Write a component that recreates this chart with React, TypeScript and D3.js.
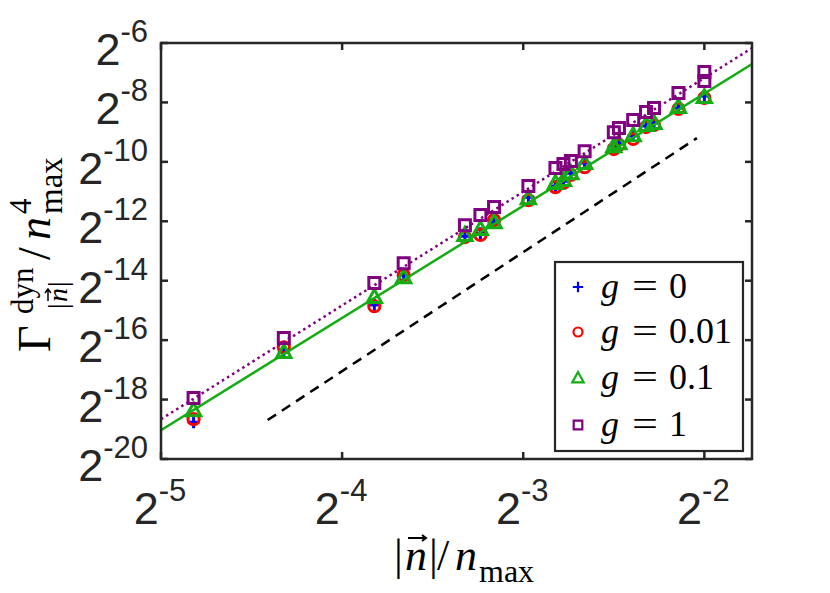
import React, { useEffect, useRef } from 'react';
import * as d3 from 'd3';

// |n| / n_max positions of the points
const xValues = [0.0354, 0.05, 0.0707, 0.0791, 0.1, 0.1061, 0.1118, 0.1275, 0.1414, 0.1458, 0.15, 0.1581, 0.1768, 0.1803, 0.1904, 0.2, 0.2062, 0.2264, 0.25];

// log2 of Gamma / n_max^4, one list per g
const g0 = [-18.76, -16.40, -14.82, -13.81, -12.50, -12.40, -12.03, -11.19, -10.81, -10.65, -10.38, -10.04, -9.47, -9.37, -9.13, -8.79, -8.69, -8.19, -7.78];
const g001 = [-18.66, -16.24, -14.86, -13.81, -12.53, -12.46, -11.96, -11.29, -10.85, -10.71, -10.44, -10.18, -9.57, -9.43, -9.23, -8.83, -8.76, -8.22, -7.85];
const g01 = [-18.36, -16.40, -14.55, -13.88, -12.46, -12.26, -12.03, -11.22, -10.71, -10.61, -10.38, -10.04, -9.47, -9.37, -9.10, -8.76, -8.69, -8.15, -7.82];
const g1 = [-17.95, -15.93, -14.08, -13.41, -12.13, -11.79, -11.52, -10.81, -10.21, -10.07, -9.97, -9.64, -9.00, -8.86, -8.59, -8.32, -8.19, -7.68, -7.28];
const g1ExtraX = [0.25];
const g1Extra = [-6.98];

// fitted lines (log2 y at the x ends)
const fitX = [0.03125, 0.3];
const fitG01 = [-19.03, -6.71];
const fitG1 = [-18.66, -6.17];
// slope-4 guide
const guideX = [0.047, 0.243];
const guideY = [-18.69, -9.2];

const xTickExp = [-5, -4, -3, -2];
const yTickExp = [-20, -18, -16, -14, -12, -10, -8, -6];
const legendLabels = ['0', '0.01', '0.1', '1'];

const GREEN = '#14ad14';
const PURPLE = '#800080';
const AXIS = '#262626';

const W = 830;
const H = 593;
const plot = { left: 161, right: 752, top: 43, bottom: 459 };

type Marker = 'plus' | 'circle' | 'triangle' | 'square';

function markerPath(m: Marker, s: number): string {
    if (m === 'plus') return `M${-s},0H${s}M0,${-s}V${s}`;
    if (m === 'triangle') return `M0,${-s * 1.15}L${s * 1.1},${s * 0.85}L${-s * 1.1},${s * 0.85}Z`;
    if (m === 'square') return `M${-s},${-s}H${s}V${s}H${-s}Z`;
    return '';
}

// little vector arrow drawn over a glyph, centred at (cx, cy), in the current frame
function arrowPath(cx: number, cy: number, w: number): string {
    const h = w / 2;
    return `M${cx - h},${cy}H${cx + h}M${cx + h - 4},${cy - 3}L${cx + h},${cy}L${cx + h - 4},${cy + 3}`;
}

const App: React.FC = () => {
    const svgRef = useRef<SVGSVGElement | null>(null);

    useEffect(() => {
        const svg = d3.select(svgRef.current);
        svg.selectAll('*').remove();

        const x = d3.scaleLog().base(2).domain([Math.pow(2, -5), 0.3]).range([plot.left, plot.right]);
        const y = d3.scaleLog().base(2).domain([Math.pow(2, -20), Math.pow(2, -6)]).range([plot.bottom, plot.top]);

        svg.append('defs').append('clipPath').attr('id', 'plotClip')
            .append('rect')
            .attr('x', plot.left).attr('y', plot.top)
            .attr('width', plot.right - plot.left).attr('height', plot.bottom - plot.top);

        const series: { vals: number[]; xs: number[]; color: string; marker: Marker }[] = [
            { vals: g0, xs: xValues, color: '#0000ff', marker: 'plus' },
            { vals: g001, xs: xValues, color: '#ff0000', marker: 'circle' },
            { vals: g01, xs: xValues, color: GREEN, marker: 'triangle' },
            { vals: g1.concat(g1Extra), xs: xValues.concat(g1ExtraX), color: PURPLE, marker: 'square' },
        ];

        const dataG = svg.append('g');
        series.forEach(s => {
            const pts = s.vals.map((v, i) => [x(s.xs[i]), y(Math.pow(2, v))]);
            if (s.marker === 'circle') {
                dataG.append('g').selectAll('circle').data(pts).enter().append('circle')
                    .attr('cx', d => d[0]).attr('cy', d => d[1]).attr('r', 5.6)
                    .attr('fill', 'none').attr('stroke', s.color).attr('stroke-width', 3);
            } else {
                const sz = s.marker === 'plus' ? 6 : s.marker === 'square' ? 5.5 : 6.5;
                dataG.append('g').selectAll('path').data(pts).enter().append('path')
                    .attr('transform', d => `translate(${d[0]},${d[1]})`)
                    .attr('d', markerPath(s.marker, sz))
                    .attr('fill', 'none').attr('stroke', s.color).attr('stroke-width', 3);
            }
        });

        const line = d3.line<[number, number]>().x(d => x(d[0])).y(d => y(Math.pow(2, d[1])));
        const lines = svg.append('g').attr('clip-path', 'url(#plotClip)');
        lines.append('path').attr('d', line(fitX.map((v, i) => [v, fitG01[i]]) as [number, number][]))
            .attr('fill', 'none').attr('stroke', GREEN).attr('stroke-width', 2.5);
        lines.append('path').attr('d', line(fitX.map((v, i) => [v, fitG1[i]]) as [number, number][]))
            .attr('fill', 'none').attr('stroke', PURPLE).attr('stroke-width', 2.5)
            .attr('stroke-dasharray', '2.5,3.5');
        lines.append('path').attr('d', line(guideX.map((v, i) => [v, guideY[i]]) as [number, number][]))
            .attr('fill', 'none').attr('stroke', '#000').attr('stroke-width', 2.5)
            .attr('stroke-dasharray', '10,7');

        // axes box + ticks
        const axG = svg.append('g').attr('stroke', AXIS).attr('stroke-width', 2.5);
        xTickExp.forEach(e => {
            const px = x(Math.pow(2, e));
            axG.append('line').attr('x1', px).attr('x2', px).attr('y1', plot.bottom).attr('y2', plot.bottom - 7);
            axG.append('line').attr('x1', px).attr('x2', px).attr('y1', plot.top).attr('y2', plot.top + 7);
        });
        yTickExp.forEach(e => {
            const py = y(Math.pow(2, e));
            axG.append('line').attr('x1', plot.left).attr('x2', plot.left + 7).attr('y1', py).attr('y2', py);
            axG.append('line').attr('x1', plot.right).attr('x2', plot.right - 7).attr('y1', py).attr('y2', py);
        });
        axG.append('rect')
            .attr('x', plot.left).attr('y', plot.top)
            .attr('width', plot.right - plot.left).attr('height', plot.bottom - plot.top)
            .attr('fill', 'none').attr('stroke-linecap', 'square');

        // tick labels
        const tickFont = '"Liberation Sans", Arial, sans-serif';
        xTickExp.forEach(e => {
            const t = svg.append('text')
                .attr('x', x(Math.pow(2, e)) - 1).attr('y', 524)
                .attr('text-anchor', 'middle').attr('font-family', tickFont)
                .attr('font-size', 45).attr('fill', AXIS);
            t.append('tspan').text('2');
            t.append('tspan').attr('dy', -23).attr('font-size', 31).text(String(e));
        });
        yTickExp.forEach(e => {
            const t = svg.append('text')
                .attr('x', 148).attr('y', y(Math.pow(2, e)) + 22)
                .attr('text-anchor', 'end').attr('font-family', tickFont)
                .attr('font-size', 45).attr('fill', AXIS);
            t.append('tspan').text('2');
            t.append('tspan').attr('dy', -23).attr('font-size', 31).text(String(e));
        });

        // legend
        const serif = '"Liberation Serif", "Times New Roman", serif';
        const lg = svg.append('g');
        lg.append('rect').attr('x', 555).attr('y', 262).attr('width', 188).attr('height', 189)
            .attr('fill', '#fff').attr('stroke', AXIS).attr('stroke-width', 2.2);
        const rowY = [287, 332, 378, 425];
        series.forEach((s, i) => {
            const cy = rowY[i];
            if (s.marker === 'circle') {
                lg.append('circle').attr('cx', 578).attr('cy', cy).attr('r', 4.5)
                    .attr('fill', 'none').attr('stroke', s.color).attr('stroke-width', 2.2);
            } else {
                lg.append('path').attr('transform', `translate(578,${cy})`)
                    .attr('d', markerPath(s.marker, s.marker === 'square' ? 4.3 : 5.2))
                    .attr('fill', 'none').attr('stroke', s.color).attr('stroke-width', 2.2);
            }
            const t = lg.append('text').attr('x', 601).attr('y', cy + 11)
                .attr('font-family', serif).attr('font-size', 36).attr('fill', '#000');
            t.append('tspan').attr('font-style', 'italic').text('g');
            t.append('tspan').attr('x', 632).attr('textLength', 26).attr('lengthAdjust', 'spacingAndGlyphs').text('=');
            t.append('tspan').attr('x', 669).text(legendLabels[i]);
        });

        // x label: |n| / n_max
        const xl = svg.append('text').attr('x', 394).attr('y', 570)
            .attr('font-family', serif).attr('font-size', 44).attr('fill', '#000');
        xl.append('tspan').text('|');
        xl.append('tspan').attr('x', 405).attr('font-style', 'italic').text('n');
        xl.append('tspan').attr('x', 429).text('|');
        xl.append('tspan').attr('x', 437).text('/');
        xl.append('tspan').attr('x', 455).attr('font-style', 'italic').text('n');
        xl.append('tspan').attr('x', 479).attr('dy', 12).attr('font-size', 32).text('max');
        svg.append('path').attr('d', arrowPath(417, 538, 18))
            .attr('fill', 'none').attr('stroke', '#000').attr('stroke-width', 2);

        // y label: Gamma^dyn_|n| / n^4_max, rotated
        const yg = svg.append('g').attr('transform', 'translate(50,352) rotate(-90)');
        const yl = yg.append('text').attr('x', 0).attr('y', 0)
            .attr('font-family', serif).attr('font-size', 46).attr('fill', '#000');
        yl.append('tspan').text('\u0393');
        yl.append('tspan').attr('x', 38).attr('y', -17).attr('font-size', 31).text('dyn');
        yl.append('tspan').attr('x', 43).attr('y', 17).attr('font-size', 28).text('|');
        yl.append('tspan').attr('x', 50).attr('font-size', 28).attr('font-style', 'italic').text('n');
        yl.append('tspan').attr('x', 65).attr('font-size', 28).text('|');
        yl.append('tspan').attr('x', 92).attr('y', 0).text('/');
        yl.append('tspan').attr('x', 112).attr('font-style', 'italic').text('n');
        yl.append('tspan').attr('x', 138).attr('y', -19).attr('font-size', 31).text('4');
        yl.append('tspan').attr('x', 138).attr('y', 12).attr('font-size', 33).text('max');
        yg.append('path').attr('d', arrowPath(57, -2, 12))
            .attr('fill', 'none').attr('stroke', '#000').attr('stroke-width', 1.5);
    }, []);

    return (
        <svg ref={svgRef} width={W} height={H}
            style={{ position: 'absolute', left: 0, top: 0, background: '#fff' }} />
    );
};

export default App;
